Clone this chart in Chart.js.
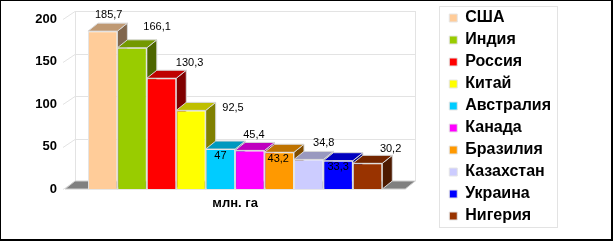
<!DOCTYPE html>
<html>
<head>
<meta charset="utf-8">
<script src="https://cdn.jsdelivr.net/npm/chart.js@4/dist/chart.umd.min.js"></script>
<style>
    html, body { margin: 0; padding: 0; background: #fff; }
    canvas { display: block; }
</style>
</head>
<body>
<canvas id="grafico" width="613" height="241"></canvas>
<script>
var categorias = ['млн. га'];
var paises = ['США', 'Индия', 'Россия', 'Китай', 'Австралия', 'Канада', 'Бразилия', 'Казахстан', 'Украина', 'Нигерия'];
var valores = [185.7, 166.1, 130.3, 92.5, 47, 45.4, 43.2, 34.8, 33.3, 30.2];
var ticksY = [0, 50, 100, 150, 200];
var cores = ['#FFCC99', '#99CC00', '#FF0000', '#FFFF00', '#00CCFF', '#FF00FF', '#FF9900', '#CCCCFF', '#0000FF', '#993300'];

// deslocamento dos rotulos de valor em relacao ao topo da barra (como no original)
var rotuloDx = [6, 25, 28, 42, 0, 4, -1, 15, 0, 23];
var rotuloDy = [-16, -21, -15, -2, 7, -15, 7, -16, 6, -14];

var FONTE = "'Liberation Sans', Arial, sans-serif";
var PROF_X = 10, PROF_Y = 8;

function escurecer(hex, f) {
    var n = parseInt(hex.slice(1), 16);
    var r = Math.round(((n >> 16) & 255) * f);
    var g = Math.round(((n >> 8) & 255) * f);
    var b = Math.round((n & 255) * f);
    return 'rgb(' + r + ',' + g + ',' + b + ')';
}

function poligono(ctx, pts, fill, stroke) {
    ctx.beginPath();
    ctx.moveTo(pts[0][0], pts[0][1]);
    for (var i = 1; i < pts.length; i++) ctx.lineTo(pts[i][0], pts[i][1]);
    ctx.closePath();
    ctx.fillStyle = fill;
    ctx.fill();
    if (stroke) {
        ctx.strokeStyle = stroke;
        ctx.lineWidth = 1;
        ctx.stroke();
    }
}

var efeito3d = {
    id: 'efeito3d',
    beforeDraw: function(chart) {
        var ctx = chart.ctx;
        ctx.save();
        ctx.fillStyle = '#fff';
        ctx.fillRect(0, 0, chart.width, chart.height);
        ctx.restore();
    },
    beforeDatasetsDraw: function(chart) {
        var ctx = chart.ctx;
        var area = chart.chartArea;
        var escalaY = chart.scales.y;
        var esq = area.left, dir = area.right, base = area.bottom, topo = area.top;
        ctx.save();

        // parede do fundo e linhas de grade
        ctx.strokeStyle = '#e3e3e3';
        ctx.lineWidth = 1;
        ticksY.forEach(function(v) {
            var py = Math.round(escalaY.getPixelForValue(v)) + 0.5;
            ctx.beginPath();
            ctx.moveTo(esq - 2, py);
            ctx.lineTo(esq + PROF_X, py - PROF_Y);
            ctx.lineTo(dir + PROF_X, py - PROF_Y);
            ctx.stroke();
        });
        ctx.beginPath();
        ctx.moveTo(Math.round(esq + PROF_X) + 0.5, topo - PROF_Y);
        ctx.lineTo(Math.round(esq + PROF_X) + 0.5, base - PROF_Y);
        ctx.moveTo(Math.round(dir + PROF_X) + 0.5, topo - PROF_Y);
        ctx.lineTo(Math.round(dir + PROF_X) + 0.5, base - PROF_Y);
        ctx.stroke();

        // piso
        poligono(ctx, [[esq, base], [esq + PROF_X, base - PROF_Y], [dir + PROF_X, base - PROF_Y], [dir, base]], '#808080', '#d0d0d0');

        // faces laterais e superiores das barras
        chart.data.datasets.forEach(function(ds, i) {
            var barra = chart.getDatasetMeta(i).data[0];
            var l = barra.x - barra.width / 2;
            var r = barra.x + barra.width / 2;
            var t = barra.y, b = barra.base;
            poligono(ctx, [[r, t], [r + PROF_X, t - PROF_Y], [r + PROF_X, b - PROF_Y], [r, b]], escurecer(cores[i], 0.5), '#d8d8d8');
            poligono(ctx, [[l, t], [l + PROF_X, t - PROF_Y], [r + PROF_X, t - PROF_Y], [r, t]], escurecer(cores[i], 0.75), '#d8d8d8');
        });
        ctx.restore();
    },
    afterDatasetsDraw: function(chart) {
        var ctx = chart.ctx;
        ctx.save();
        ctx.font = '11px ' + FONTE;
        ctx.fillStyle = '#000';
        ctx.textAlign = 'center';
        ctx.textBaseline = 'middle';
        chart.data.datasets.forEach(function(ds, i) {
            var barra = chart.getDatasetMeta(i).data[0];
            var texto = String(ds.data[0]).replace('.', ',');
            ctx.fillText(texto, barra.x + rotuloDx[i], barra.y + rotuloDy[i]);
        });
        ctx.restore();
    },
    afterDraw: function(chart) {
        var ctx = chart.ctx;
        ctx.save();
        // moldura da legenda
        var caixas = chart.legend.legendHitBoxes;
        if (caixas && caixas.length) {
            var minL = Infinity, maxR = -Infinity;
            caixas.forEach(function(c) {
                minL = Math.min(minL, c.left);
                maxR = Math.max(maxR, c.left + c.width);
            });
            var ult = caixas[caixas.length - 1];
            var x0 = Math.round(minL - 10) + 0.5;
            var y0 = Math.round(caixas[0].top - 4) + 0.5;
            var x1 = Math.round(maxR + 6) + 0.5;
            var y1 = Math.round(ult.top + ult.height + 3) + 0.5;
            ctx.strokeStyle = '#e3e3e3';
            ctx.lineWidth = 1;
            ctx.strokeRect(x0, y0, x1 - x0, y1 - y0);
        }
        // borda externa
        ctx.fillStyle = '#000';
        ctx.fillRect(0, 0, chart.width, 1);
        ctx.fillRect(0, 0, 1, chart.height);
        ctx.fillRect(chart.width - 2, 0, 2, chart.height);
        ctx.fillRect(0, chart.height - 2, chart.width, 2);
        ctx.restore();
    }
};

var conjuntos = paises.map(function(nome, i) {
    return {
        label: nome,
        data: [valores[i]],
        backgroundColor: cores[i],
        borderColor: '#e6e6e6',
        borderWidth: 1,
        categoryPercentage: 0.865,
        barPercentage: 1,
        xAxisID: 'x',
        yAxisID: 'y'
    };
});

var contexto = document.getElementById('grafico').getContext('2d');
new Chart(contexto, {
    type: 'bar',
    data: {
        labels: categorias,
        datasets: conjuntos
    },
    options: {
        responsive: false,
        animation: false,
        layout: { padding: { top: 4, right: 52, left: 0, bottom: 0 } },
        scales: {
            x: {
                type: 'category',
                position: 'bottom',
                grid: { display: false, drawTicks: false },
                border: { display: false },
                ticks: {
                    color: '#000',
                    padding: 7,
                    font: { family: FONTE, size: 13, weight: 'bold' }
                },
                afterFit: function(s) { s.height = 52; }
            },
            x2: {
                type: 'category',
                position: 'top',
                grid: { display: false, drawTicks: false },
                border: { display: false },
                ticks: { display: false },
                afterFit: function(s) { s.height = 15; }
            },
            y: {
                min: 0,
                max: 200,
                position: 'left',
                grid: { display: false, drawTicks: false },
                border: { display: false },
                afterBuildTicks: function(s) {
                    s.ticks = ticksY.map(function(v) { return { value: v }; });
                },
                ticks: {
                    color: '#000',
                    padding: 8,
                    font: { family: FONTE, size: 13, weight: 'bold' }
                },
                afterFit: function(s) { s.width = 65; }
            },
            y2: {
                type: 'linear',
                position: 'right',
                grid: { display: false, drawTicks: false },
                border: { display: false },
                ticks: { display: false },
                afterFit: function(s) { s.width = 38; }
            }
        },
        plugins: {
            tooltip: { enabled: false },
            legend: {
                display: true,
                position: 'right',
                align: 'start',
                maxWidth: 200,
                labels: {
                    boxWidth: 8,
                    boxHeight: 8,
                    padding: 6,
                    color: '#000',
                    font: { family: FONTE, size: 16, weight: 'bold' }
                }
            }
        }
    },
    plugins: [efeito3d]
});
</script>
</body>
</html>
